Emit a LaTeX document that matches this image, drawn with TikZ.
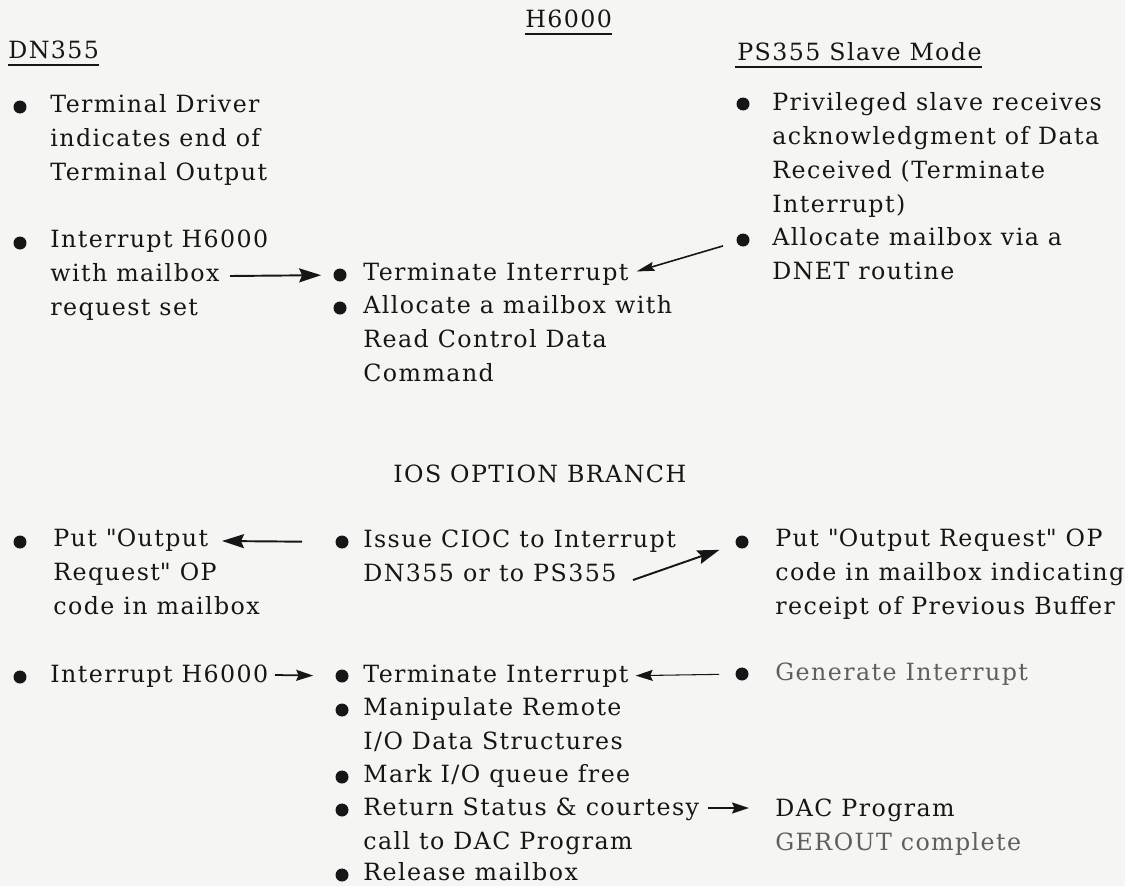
\documentclass[tikz,border=0pt]{standalone}
\usepackage{fontspec}
\setmainfont{DejaVu Serif}[LetterSpace=6]
\usepackage{tikz}
\usetikzlibrary{arrows.meta, positioning, calc}
\definecolor{paper}{RGB}{245,245,243}
\definecolor{ink}{RGB}{22,22,22}
\definecolor{faded}{RGB}{95,95,95}

\begin{document}
\begin{tikzpicture}[
    x=0.02cm, y=-0.02cm,
    txt/.style={anchor=base west, inner sep=0pt, align=left, text=ink,
                font=\fontsize{13.5}{19.3}\selectfont},
    head/.style={txt},
    dot/.style={circle, fill=ink, inner sep=0pt, minimum size=0.26cm},
    arr/.style={draw=ink, line width=1.1pt,
                -{Stealth[length=0.44cm, width=0.28cm, inset=0.06cm]}},
    arrsmall/.style={draw=ink, line width=1pt,
                -{Stealth[length=0.34cm, width=0.22cm, inset=0.05cm]}}
]
    \fill[paper] (0,0) rectangle (1125,886);
    \useasboundingbox (0,0) rectangle (1125,886);

    % Column headings
    \node[head] (hTitle) at (525,27) {H6000};
    \node[head] (dnTitle) at (8,58) {DN355};
    \node[head] (psTitle) at (737,60) {PS355 Slave Mode};
    \draw[ink, line width=1.2pt] ([yshift=-0.14cm]hTitle.base west) -- ([yshift=-0.14cm]hTitle.base east);
    \draw[ink, line width=1.2pt] ([yshift=-0.14cm]dnTitle.base west) -- ([yshift=-0.14cm]dnTitle.base east);
    \draw[ink, line width=1.2pt] ([xshift=-0.04cm, yshift=-0.14cm]psTitle.base west) -- ([yshift=-0.14cm]psTitle.base east);

    % Bullets
    \foreach \n/\x/\y in {dDnEnd/20/107, dDnIntr/20/243, dHTerm/340/275, dHAlloc/340/308,
                          dPsAck/743/104, dPsAlloc/743/240,
                          dDnPut/20/542, dHCioc/342/542, dPsPut/742/542,
                          dDnIntrB/20/677, dHTermB/342/676, dHManip/342/710,
                          dHMark/342/777, dHReturn/342/810, dHRelease/342/875,
                          dPsGen/742/674}
        \node[dot] (\n) at (\x,\y) {};

    % Top part (multi-line nodes sit on their last line)
    \node[txt] (dnEnd) at (50,180) {Terminal Driver\\indicates end of\\Terminal Output};
    \node[txt] (dnIntr) at (50,315) {Interrupt H6000\\with mailbox\\request set};
    \node[txt] (hTerm) at (363,280) {Terminate Interrupt};
    \node[txt] (hAlloc) at (363,381) {Allocate a mailbox with\\Read Control Data\\Command};
    \node[txt] (psAck) at (772,212) {Privileged slave receives\\acknowledgment of Data\\Received (Terminate\\Interrupt)};
    \node[txt] (psAlloc) at (772,279) {Allocate mailbox via a\\DNET routine};

    % Middle heading
    \node[head] (iosTitle) at (393,482) {IOS OPTION BRANCH};

    % Lower part
    \node[txt] (dnPut) at (53,614) {Put \textquotedbl Output\\Request\textquotedbl\ OP\\code in mailbox};
    \node[txt] (hCioc) at (363,581) {Issue CIOC to Interrupt\\DN355 or to PS355};
    \node[txt] (psPut) at (775,614) {Put \textquotedbl Output Request\textquotedbl\ OP\\code in mailbox indicating\\receipt of Previous Buffer};
    \node[txt] (dnIntrB) at (50,682) {Interrupt H6000};
    \node[txt] (hTermB) at (363,682) {Terminate Interrupt};
    \node[txt] (hManip) at (363,749) {Manipulate Remote\\I/O Data Structures};
    \node[txt] (hMark) at (363,782) {Mark I/O queue free};
    \node[txt] (hReturn) at (363,849) {Return Status \& courtesy\\call to DAC Program};
    \node[txt] (hRelease) at (363,880) {Release mailbox};
    \node[txt, text=faded] (psGen) at (775,680) {Generate Interrupt};
    \node[txt] (psDac) at (775,850) {DAC Program\\\textcolor{faded}{GEROUT complete}};

    % Arrow ends
    \coordinate (aMail) at (230,276);
    \coordinate (aPutTip) at (222,541);
    \coordinate (aCioc) at (633,580);
    \coordinate (aIntrB) at (275,675);
    \coordinate (aRet) at (708,808);

    % Connectors
    \draw[arr] (aMail) -- (dHTerm) [shorten >=0.24cm];
    \draw[arr, line width=0.9pt, -{Stealth[length=0.36cm, width=0.18cm, inset=0.05cm]},
          shorten <=0.28cm, shorten >=0.16cm] (dPsAlloc) -- (hTerm.east);
    \draw[arr, shorten <=0.66cm] (dHCioc) -- (aPutTip);
    \draw[arr, shorten >=0.34cm] (aCioc) -- (dPsPut);
    \draw[arrsmall, shorten >=0.44cm] (aIntrB) -- (dHTermB);
    \draw[arrsmall, line width=0.6pt, shorten <=0.32cm, shorten >=0.14cm] (dPsGen) -- (hTermB.east);
    \draw[arrsmall, shorten >=0.52cm] (aRet) -- (psDac.west |- aRet);
\end{tikzpicture}
\end{document}
